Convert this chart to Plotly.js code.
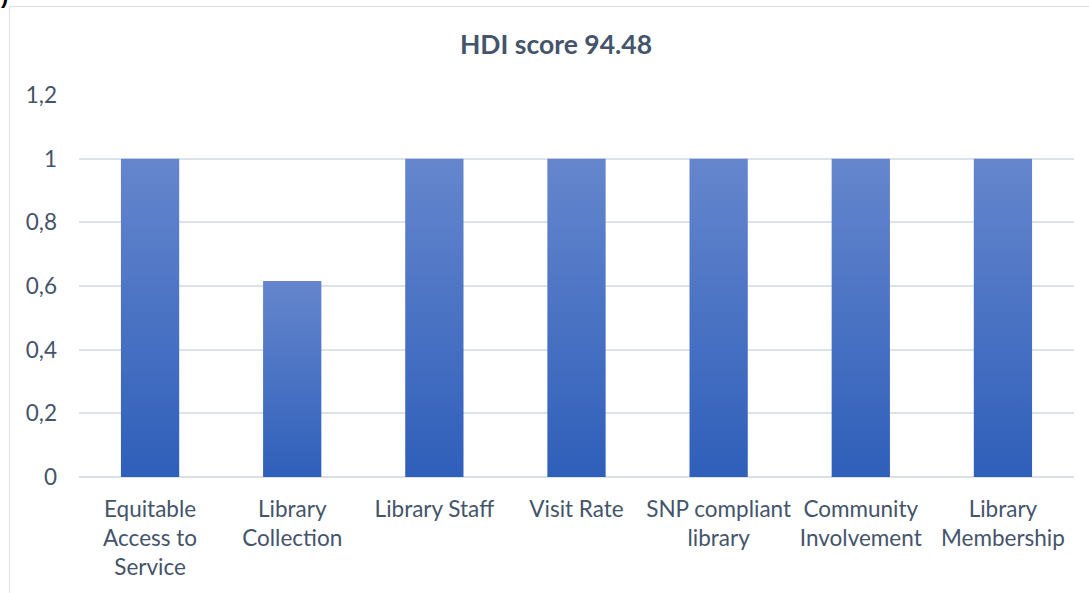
<!DOCTYPE html>
<html>
<head>
<meta charset="utf-8">
<script src="https://cdn.plot.ly/plotly-3.0.1.min.js"></script>
<style>
  html, body { margin: 0; padding: 0; background: #fff; overflow: hidden; }
  #wrap { position: relative; width: 1089px; height: 593px; overflow: hidden; }
  #frame { position: absolute; left: 9px; top: 6px; width: 1100px; height: 620px; border: 1.5px solid #DEE2E8; box-sizing: border-box; }
  #frag { position: absolute; left: 1px; top: -17px; font-family: 'Liberation Sans', sans-serif; font-weight: bold; font-size: 22px; color: #000; }
  #chart { position: absolute; left: 0; top: 0; width: 1089px; height: 593px; }
</style>
</head>
<body>
<div id="wrap">
  <div id="frame"></div>
  <div id="frag">)</div>
  <div id="chart"></div>
</div>
<script>
const categories = [
  "Equitable<br>Access to<br>Service",
  "Library<br>Collection",
  "Library Staff",
  "Visit Rate",
  "SNP compliant<br>library",
  "Community<br>Involvement",
  "Library<br>Membership"
];
const values = [1, 0.616, 1, 1, 1, 1, 1];
const chartTitle = "HDI score 94.48";
const textColor = "#44546A";
const fontFam = "Lato, 'Liberation Sans', sans-serif";

const trace = {
  type: 'bar',
  x: categories,
  y: values,
  marker: { color: '#4472C4', line: { width: 0 } },
  hoverinfo: 'none'
};

const layout = {
  width: 1089,
  height: 593,
  paper_bgcolor: 'rgba(0,0,0,0)',
  plot_bgcolor: 'rgba(0,0,0,0)',
  separators: ',.',
  margin: { l: 79, r: 15, t: 95, b: 116 },
  bargap: 0.59,
  showlegend: false,
  title: {
    text: '<b>' + chartTitle + '</b>',
    font: { family: fontFam, size: 26.5, color: textColor },
    x: 556 / 1089, xref: 'container', xanchor: 'center',
    y: 1 - 45 / 593, yref: 'container', yanchor: 'middle'
  },
  xaxis: {
    type: 'category',
    tickfont: { family: fontFam, size: 22.5, color: textColor },
    showgrid: false,
    showline: false,
    zeroline: false,
    ticks: '',
    tickangle: 0,
    automargin: false,
    ticklabelstandoff: 16
  },
  yaxis: {
    range: [0, 1.2],
    dtick: 0.2,
    tick0: 0,
    showgrid: true,
    gridcolor: '#DDE2E9',
    gridwidth: 1.8,
    zeroline: true,
    zerolinecolor: '#DAE0E7',
    zerolinewidth: 1.8,
    showline: false,
    ticks: '',
    tickfont: { family: fontFam, size: 22.5, color: textColor },
    automargin: false,
    ticklabelstandoff: 21
  }
};

Plotly.newPlot('chart', [trace], layout, { displayModeBar: false, staticPlot: true }).then(function (gd) {
  const svg = gd.querySelector('svg.main-svg');
  const ns = 'http://www.w3.org/2000/svg';
  let defs = svg.querySelector('defs');
  if (!defs) { defs = document.createElementNS(ns, 'defs'); svg.insertBefore(defs, svg.firstChild); }
  const grad = document.createElementNS(ns, 'linearGradient');
  grad.setAttribute('id', 'barGrad');
  grad.setAttribute('x1', '0'); grad.setAttribute('y1', '0');
  grad.setAttribute('x2', '0'); grad.setAttribute('y2', '1');
  [['0', '#6586CD'], ['1', '#2F5FBA']].forEach(function (s) {
    const st = document.createElementNS(ns, 'stop');
    st.setAttribute('offset', s[0]);
    st.setAttribute('stop-color', s[1]);
    grad.appendChild(st);
  });
  defs.appendChild(grad);
  gd.querySelectorAll('.bars .point path').forEach(function (p) {
    p.style.fill = 'url(#barGrad)';
  });
});
</script>
</body>
</html>
